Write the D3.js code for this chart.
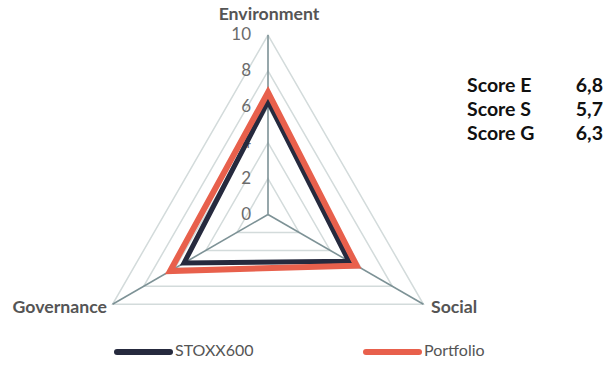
<!DOCTYPE html>
<html><head><meta charset="utf-8">
<script src="https://cdn.jsdelivr.net/npm/d3@7"></script>
<style>body{margin:0;background:#fff}svg{display:block;font-family:Lato,"Open Sans",sans-serif}</style>
</head><body><svg id="c" width="612" height="365"></svg>
<script>
const axesNames = ["Environment", "Social", "Governance"];
const stoxx600 = [6.3, 5.2, 5.4];
const portfolio = [6.8, 5.7, 6.3];
const tickValues = [0, 2, 4, 6, 8, 10];
const scoreLabels = ["Score E", "Score S", "Score G"];
const scoreValues = ["6,8", "5,7", "6,3"];
const seriesNames = ["STOXX600", "Portfolio"];
const seriesColors = ["#262a3e", "#e8604c"];

const svg = d3.select("#c");
const cx = 268, cy = 214.5, R = 179.5;
const r = d3.scaleLinear().domain([0, 10]).range([0, R]);
const ang = d3.scalePoint().domain(axesNames).range([0, 240]);
function pt(name, v){ const a = (ang(name) - 90) * Math.PI/180; return [cx + r(v)*Math.cos(a), cy + r(v)*Math.sin(a)]; }
const line = d3.line();

// grid
tickValues.filter(t => t > 0).forEach(t => {
  svg.append("path").attr("d", line(axesNames.map(n => pt(n, t))) + "Z")
    .attr("fill", "none").attr("stroke", "#d3dbdb").attr("stroke-width", 1.5);
});
// axes
axesNames.forEach(n => {
  const p = pt(n, 10);
  svg.append("line").attr("x1", cx).attr("y1", cy).attr("x2", p[0]).attr("y2", p[1])
    .attr("stroke", "#7d9296").attr("stroke-width", 1.6);
});
// tick labels
tickValues.forEach(t => {
  svg.append("text").attr("x", 251).attr("y", cy - r(t) + 1).attr("text-anchor", "end")
    .attr("dominant-baseline", "middle").attr("font-size", 17).attr("fill", "#6b6b6b").text(t);
});
// series
[stoxx600, portfolio].forEach((vals, i) => {
  svg.append("path").attr("d", line(axesNames.map((n, j) => pt(n, vals[j]))) + "Z")
    .attr("fill", "none").attr("stroke", seriesColors[i]).attr("stroke-width", i ? 6 : 5)
    .attr("stroke-linejoin", "miter");
});
// axis labels
const lab = [["middle", 269, 15], ["start", 431, 308], ["end", 107, 308]];
axesNames.forEach((n, i) => {
  svg.append("text").attr("x", lab[i][1]).attr("y", lab[i][2]).attr("text-anchor", lab[i][0])
    .attr("dominant-baseline", "middle").attr("font-size", 17.7).attr("font-weight", "bold")
    .attr("fill", "#555").text(n);
});
// scores
scoreLabels.forEach((s, i) => {
  const y = 87 + i * 24;
  svg.append("text").attr("x", 467).attr("y", y).attr("dominant-baseline", "middle")
    .attr("font-size", 19.5).attr("font-weight", "bold").attr("fill", "#111").text(s);
  svg.append("text").attr("x", 603).attr("y", y).attr("text-anchor", "end").attr("dominant-baseline", "middle")
    .attr("font-size", 19.5).attr("font-weight", "bold").attr("fill", "#111").text(scoreValues[i]);
});
// legend
const lx = [117, 366];
seriesNames.forEach((s, i) => {
  svg.append("line").attr("x1", lx[i]).attr("x2", lx[i] + 53).attr("y1", 352).attr("y2", 352)
    .attr("stroke", seriesColors[i]).attr("stroke-width", 6).attr("stroke-linecap", "round");
  svg.append("text").attr("x", lx[i] + 58).attr("y", 352).attr("dominant-baseline", "middle")
    .attr("font-size", 16).attr("fill", "#555").text(s);
});
</script></body></html>
